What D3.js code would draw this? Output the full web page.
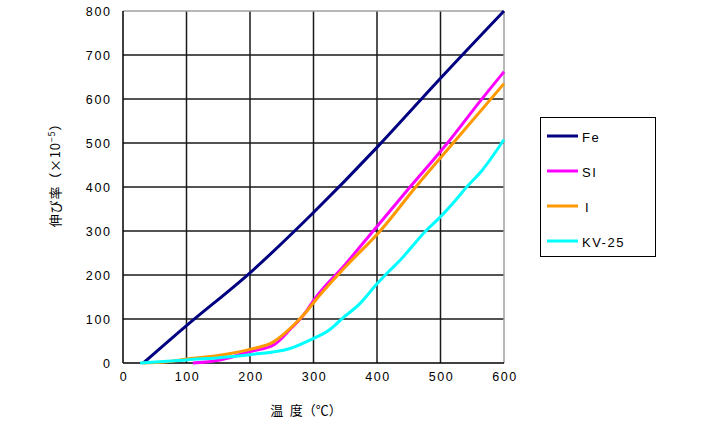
<!DOCTYPE html>
<html>
<head>
<meta charset="utf-8">
<script src="https://cdn.jsdelivr.net/npm/d3@7"></script>
<style>
  html, body { margin: 0; padding: 0; background: #fff; }
  svg { display: block; }
  .tick-label { font-family: "Liberation Sans", Arial, sans-serif; font-size: 12.5px; letter-spacing: 1.6px; fill: #000; }
  .legend-label { font-family: "Liberation Sans", Arial, sans-serif; font-size: 13px; letter-spacing: 1.5px; fill: #000; }
  .axis-title { font-family: "Noto Sans CJK JP", sans-serif; font-size: 13px; fill: #000; }
</style>
</head>
<body>
<svg id="chart" width="705" height="421"></svg>
<script>
// ---- data ----
const xTicks = [0, 100, 200, 300, 400, 500, 600];
const yTicks = [0, 100, 200, 300, 400, 500, 600, 700, 800];

const seriesNames = ["Fe", "SI", " I", "KV-25"];
const seriesColors = ["#000080", "#FF00FF", "#FF9900", "#00FFFF"];

const feX = [32, 100, 200, 300, 400, 470, 500, 600];
const feY = [0, 85, 205, 342, 490, 600, 647, 800];

const siX = [110, 153, 200, 237, 263, 289, 300, 350, 394, 452, 511, 564, 600];
const siY = [0, 7, 26, 41, 76, 118, 142, 224, 300, 400, 500, 598, 662];

const iX = [30, 70, 100, 150, 200, 237, 263, 289, 300, 350, 405, 461, 520, 600];
const iY = [0, 3, 9, 17, 31, 48, 78, 117, 137, 218, 300, 400, 500, 635];

const kvX = [27, 100, 200, 263, 300, 322, 334, 342, 373, 400, 415, 436, 476, 499, 523, 540, 565, 600];
const kvY = [0, 7, 19, 33, 56, 72, 86, 97, 135, 180, 203, 233, 299, 331, 369, 398, 437, 508];

const xLabel = "温\u2002度（℃）";

// ---- layout ----
const svg = d3.select("#chart");
const pL = 123, pR = 504, pT = 11, pB = 363;
const x = d3.scaleLinear().domain([0, 600]).range([pL, pR]);
const y = d3.scaleLinear().domain([0, 800]).range([pB, pT]);

// grid
const g = svg.append("g");
g.selectAll("line.vg").data(xTicks.filter(d => d > 0 && d < 600)).enter()
  .append("line").attr("x1", d => x(d)).attr("x2", d => x(d))
  .attr("y1", pT).attr("y2", pB)
  .attr("stroke", "#1a1a1a").attr("stroke-width", 1.5);
g.selectAll("line.hg").data(yTicks.filter(d => d > 0 && d < 800)).enter()
  .append("line").attr("y1", d => y(d)).attr("y2", d => y(d))
  .attr("x1", pL).attr("x2", pR)
  .attr("stroke", "#1a1a1a").attr("stroke-width", 1.5);
// top & right border (gray)
g.append("line").attr("x1", pL).attr("x2", pR).attr("y1", y(800)).attr("y2", y(800))
  .attr("stroke", "#a0a0a0").attr("stroke-width", 1.5);
g.append("line").attr("x1", x(600)).attr("x2", x(600)).attr("y1", pT).attr("y2", pB)
  .attr("stroke", "#a0a0a0").attr("stroke-width", 1.5);
// axes
g.append("line").attr("x1", pL).attr("x2", pL).attr("y1", pT).attr("y2", pB)
  .attr("stroke", "#000").attr("stroke-width", 1.5);
g.append("line").attr("x1", pL).attr("x2", pR).attr("y1", pB).attr("y2", pB)
  .attr("stroke", "#000").attr("stroke-width", 1.5);

// tick labels
svg.selectAll("text.yt").data(yTicks).enter().append("text")
  .attr("class", "tick-label")
  .attr("x", 111.5).attr("y", d => y(d) + 4.5)
  .attr("text-anchor", "end").text(d => d);
svg.selectAll("text.xt").data(xTicks).enter().append("text")
  .attr("class", "tick-label")
  .attr("x", d => x(d) + 1).attr("y", 381)
  .attr("text-anchor", "middle").text(d => d);

// series
const series = [
  { xs: feX, ys: feY },
  { xs: siX, ys: siY },
  { xs: iX, ys: iY },
  { xs: kvX, ys: kvY }
];
const line = d3.line().x(d => x(d[0])).y(d => y(d[1])).curve(d3.curveMonotoneX);
series.forEach((s, i) => {
  const pts = s.xs.map((v, k) => [v, s.ys[k]]);
  svg.append("path").datum(pts)
    .attr("d", line)
    .attr("fill", "none")
    .attr("stroke", seriesColors[i])
    .attr("stroke-width", 3)
    .attr("stroke-linejoin", "round");
});

// legend
const lg = svg.append("g");
lg.append("rect").attr("x", 540.5).attr("y", 117.5).attr("width", 115).attr("height", 139)
  .attr("fill", "#fff").attr("stroke", "#000").attr("stroke-width", 1);
seriesNames.forEach((n, i) => {
  const ly = 136 + i * 35;
  lg.append("line").attr("x1", 547).attr("x2", 578).attr("y1", ly).attr("y2", ly)
    .attr("stroke", seriesColors[i]).attr("stroke-width", 3);
  lg.append("text").attr("class", "legend-label")
    .attr("x", n.trim() === "I" ? 585 : 582).attr("y", ly + 6)
    .text(n.trim());
});

// axis titles
svg.append("text").attr("class", "axis-title")
  .attr("x", 306).attr("y", 415).attr("text-anchor", "middle").text(xLabel);

const yt = svg.append("text").attr("class", "axis-title")
  .attr("transform", "translate(60,172) rotate(-90)")
  .attr("text-anchor", "middle")
  .style("letter-spacing", "0.8px");
yt.append("tspan").text("伸び率（×10");
yt.append("tspan").attr("dy", -5).attr("font-size", "9px").text("−5");
yt.append("tspan").attr("dy", 5).text("）");
</script>
</body>
</html>
